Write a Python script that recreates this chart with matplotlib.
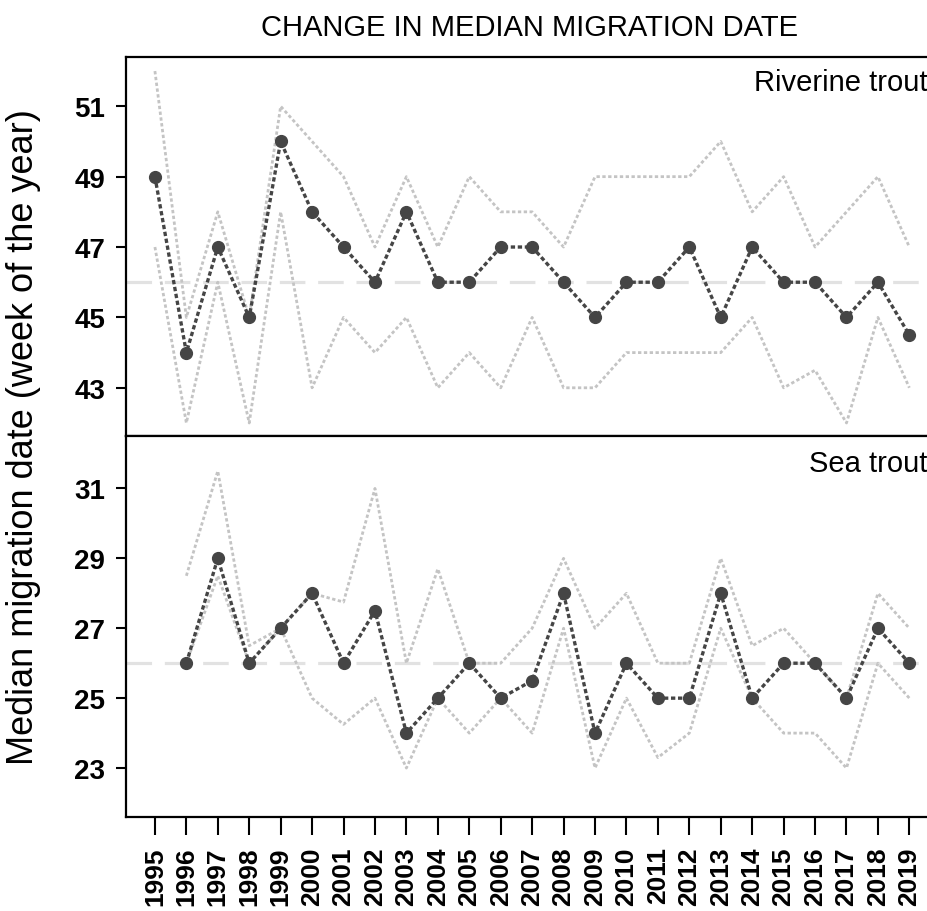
import numpy as np
import matplotlib
matplotlib.use('Agg')
import matplotlib.pyplot as plt

plt.rcParams['font.family'] = ['Liberation Sans', 'DejaVu Sans']

years = list(range(1995, 2020))

# riverine trout (week of year)
riv_med = [49, 44, 47, 45, 50, 48, 47, 46, 48, 46, 46, 47, 47, 46, 45, 46, 46, 47, 45, 47, 46, 46, 45, 46, 44.5]
riv_hi  = [52, 45, 48, 45, 51, 50, 49, 47, 49, 47, 49, 48, 48, 47, 49, 49, 49, 49, 50, 48, 49, 47, 48, 49, 47]
riv_lo  = [47, 42, 46, 42, 48, 43, 45, 44, 45, 43, 44, 43, 45, 43, 43, 44, 44, 44, 44, 45, 43, 43.5, 42, 45, 43]
riv_ref = 46

# sea trout, no data for 1995
sea_med = [np.nan, 26, 29, 26, 27, 28, 26, 27.5, 24, 25, 26, 25, 25.5, 28, 24, 26, 25, 25, 28, 25, 26, 26, 25, 27, 26]
sea_hi  = [np.nan, 28.5, 31.5, 26.5, 27, 28, 27.75, 31, 26, 28.7, 26, 26, 27, 29, 27, 28, 26, 26, 29, 26.5, 27, 26, 25, 28, 27]
sea_lo  = [np.nan, 26, 28.5, 26, 27, 25, 24.25, 25, 23, 25, 24, 25, 24, 27, 23, 25, 23.3, 24, 27, 25, 24, 24, 23, 26, 25]
sea_ref = 26

panels = [
    ('Riverine trout', riv_med, riv_hi, riv_lo, riv_ref, [43, 45, 47, 49, 51], (41.63, 52.4)),
    ('Sea trout', sea_med, sea_hi, sea_lo, sea_ref, [23, 25, 27, 29, 31], (21.6, 32.5)),
]

W, H = 927, 912
fig = plt.figure(figsize=(W / 100, H / 100), dpi=100)
left = 126 / W
width = 1.0 - left + 0.002
tops = [58, 437]
bots = [437, 818]

axs = []
for i, (name, med, hi, lo, ref, yt, yl) in enumerate(panels):
    ax = fig.add_axes([left, 1 - bots[i] / H, width, (bots[i] - tops[i]) / H])
    axs.append(ax)
    ax.axhline(ref, color='#e2e2e2', lw=2.3, dashes=(8, 4), zorder=1)
    ax.plot(years, hi, color='#c4c4c4', lw=2.0, ls=(0, (1.2, 0.9)), zorder=2)
    ax.plot(years, lo, color='#c4c4c4', lw=2.0, ls=(0, (1.2, 0.9)), zorder=2)
    ax.plot(years, med, color='#454545', lw=2.4, ls=(0, (1.3, 0.8)),
            marker='o', ms=8.5, mfc='#454545', mec='#454545', zorder=3)
    ax.set_ylim(*yl)
    ax.set_yticks(yt)
    ax.set_xlim(1994.08, 2019.62)
    ax.set_xticks(years)
    ax.text(0.998, 0.935 if i == 0 else 0.93, name, transform=ax.transAxes,
            ha='right', va='center', fontsize=21)
    for s in ['left', 'top', 'bottom']:
        ax.spines[s].set_linewidth(1.6)
    ax.spines['right'].set_visible(False)
    ax.tick_params(axis='y', labelsize=20, length=7, width=1.5, pad=8)
    ax.tick_params(axis='x', length=13, width=1.5, labelsize=19, pad=8)
    for lab in ax.get_yticklabels():
        lab.set_fontweight('bold')

axs[0].tick_params(axis='x', labelbottom=False, length=0)
axs[1].set_xticklabels([str(y) for y in years], rotation=90, fontweight='bold')

fig.text(530 / W, 1 - 28 / H, 'CHANGE IN MEDIAN MIGRATION DATE', ha='center', va='center', fontsize=21)
fig.text(24 / W, 1 - 437 / H, 'Median migration date (week of the year)', rotation=90,
         ha='center', va='center', fontsize=26)

fig.savefig('out.png', dpi=100)
